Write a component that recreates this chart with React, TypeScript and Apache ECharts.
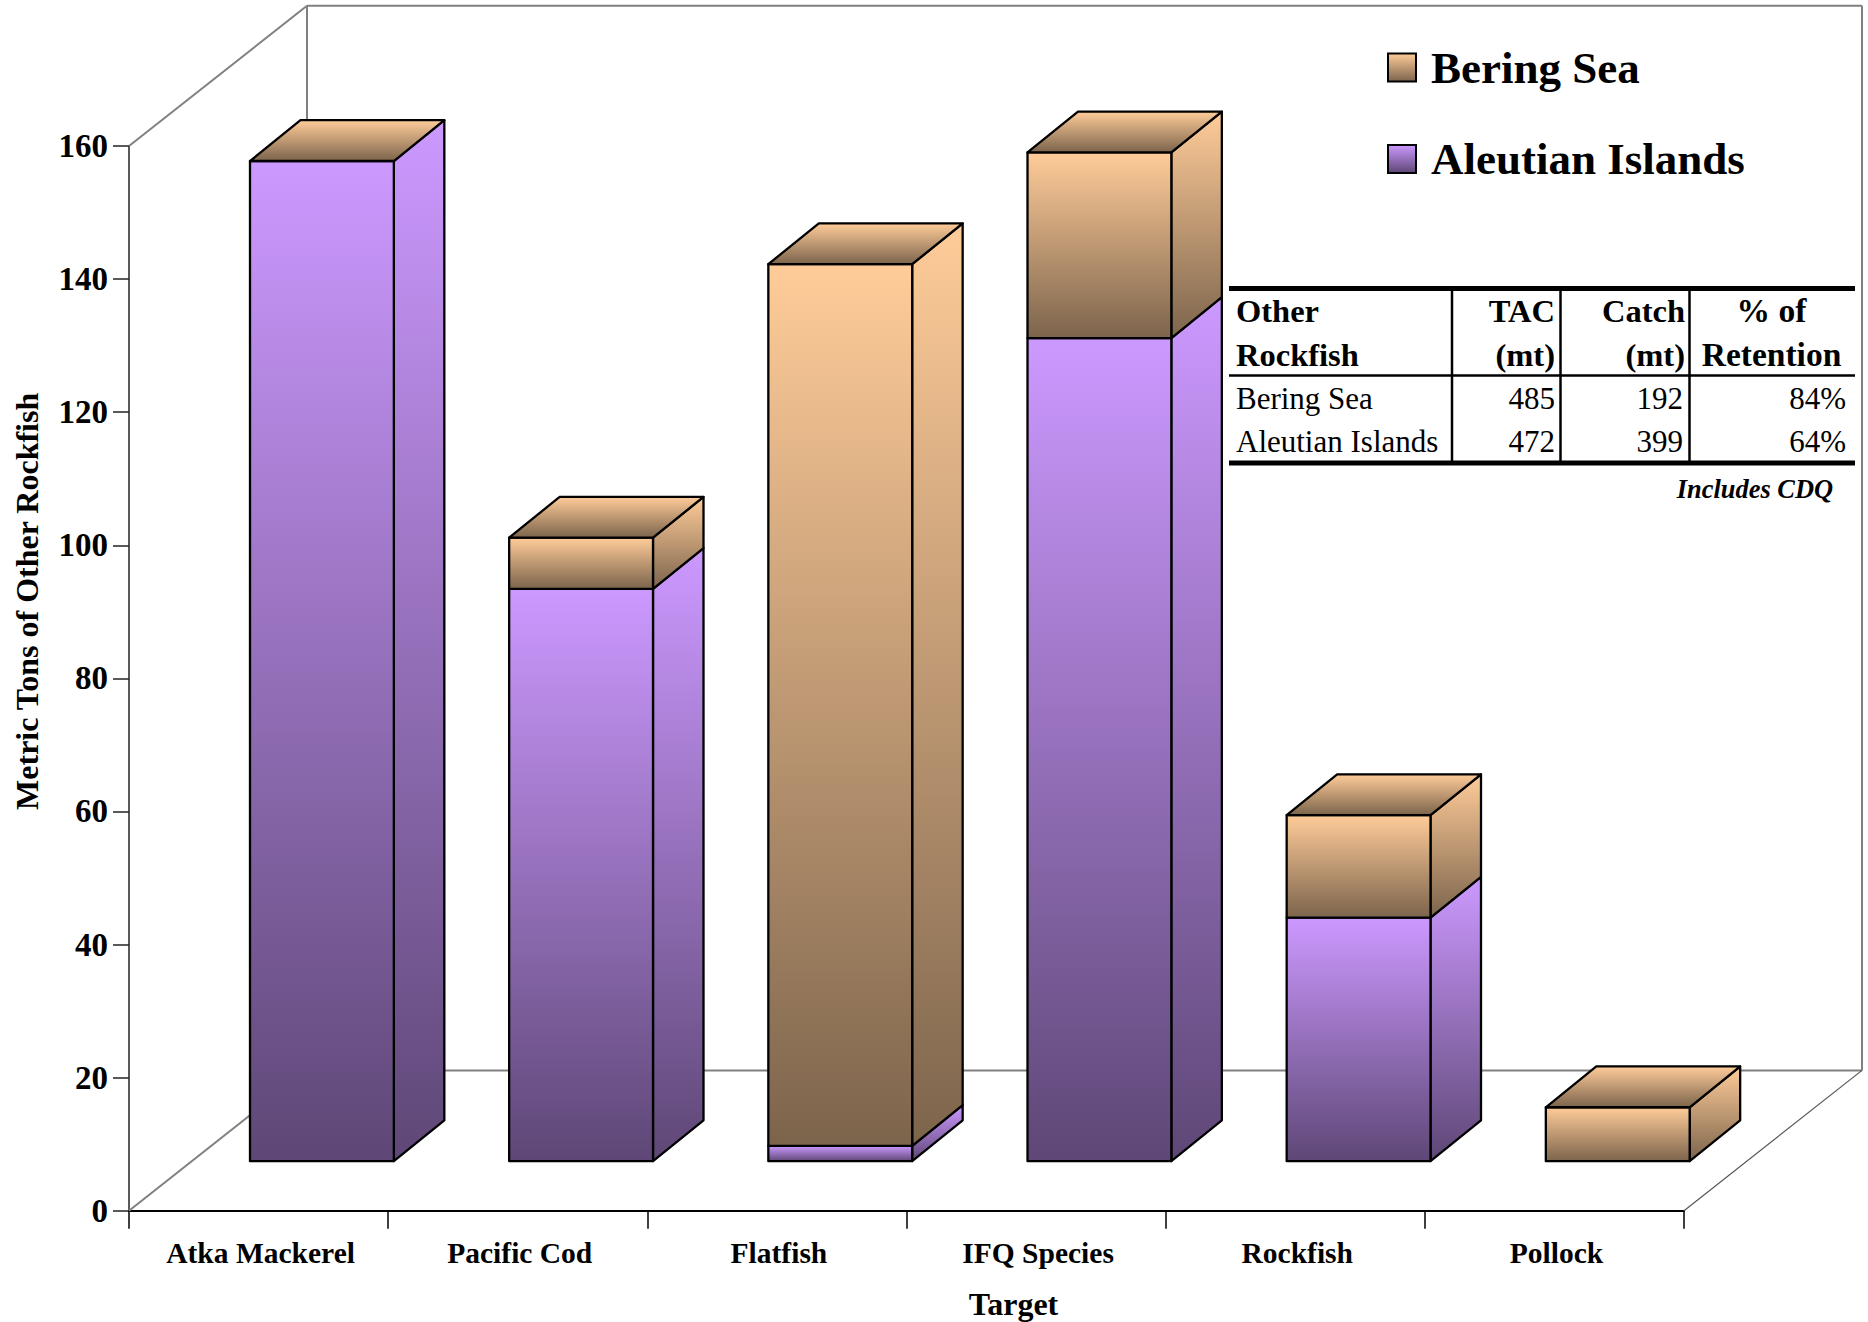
import React, { useEffect, useRef } from "react";
import * as echarts from "echarts";

const categories = ["Atka Mackerel", "Pacific Cod", "Flatfish", "IFQ Species", "Rockfish", "Pollock"];
const aleutianIslands = [150.3, 86.0, 2.3, 123.7, 36.6, 0];
const beringSea = [0, 7.7, 132.5, 27.9, 15.4, 8.1];
const yTicks = { min: 0, max: 160, interval: 20 };

const tableHeader1 = ["Other", "TAC", "Catch", "% of"];
const tableHeader2 = ["Rockfish", "(mt)", "(mt)", "Retention"];
const tableRowBering = ["Bering Sea", "485", "192", "84%"];
const tableRowAleutian = ["Aleutian Islands", "472", "399", "64%"];
const tableNote = "Includes CDQ";

const FONT = '"Liberation Serif", "Times New Roman", serif';
const DEPTH_X = 178;
const DEPTH_Y = 140.3;
const FRONT = 0.353;
const BAR_DX = 50.5;
const BAR_DY = 40.8;
const BAR_FRACTION = 0.555;

const grad = (top: string, bottom: string) => ({
  type: "linear",
  x: 0,
  y: 0,
  x2: 0,
  y2: 1,
  colorStops: [
    { offset: 0, color: top },
    { offset: 1, color: bottom },
  ],
});
const peach = () => grad("#FFCC99", "#7C644C");
const purple = () => grad("#CC99FF", "#5E4776");
const edge = { stroke: "#000", lineWidth: 2.3, lineJoin: "round" };

function makeBox(api: any, withTop: boolean, fill: () => any) {
  const i = api.value(0);
  const start = api.value(1);
  const end = api.value(2);
  const band = api.size([1, 0])[0];
  const low = api.coord([i, start]);
  const high = api.coord([i, end]);
  const half = (band * BAR_FRACTION) / 2;
  const fx = low[0] + FRONT * DEPTH_X + 0.5;
  const fdy = FRONT * DEPTH_Y;
  const l = fx - half;
  const r = fx + half;
  const yLow = low[1] - fdy;
  const yHigh = high[1] - fdy;
  const children: any[] = [];
  if (end > start) {
    children.push({
      type: "polygon",
      shape: { points: [[r, yLow], [r + BAR_DX, yLow - BAR_DY], [r + BAR_DX, yHigh - BAR_DY], [r, yHigh]] },
      style: { fill: fill(), ...edge },
    });
    children.push({
      type: "polygon",
      shape: { points: [[l, yLow], [r, yLow], [r, yHigh], [l, yHigh]] },
      style: { fill: fill(), ...edge },
    });
  }
  if (withTop) {
    children.push({
      type: "polygon",
      shape: { points: [[l, yHigh], [r, yHigh], [r + BAR_DX, yHigh - BAR_DY], [l + BAR_DX, yHigh - BAR_DY]] },
      style: { fill: peach(), ...edge },
    });
  }
  return { type: "group", children };
}

function renderWalls(params: any) {
  const c = params.coordSys;
  const x0 = c.x;
  const x1 = c.x + c.width;
  const yTop = c.y;
  const yBase = c.y + c.height;
  const seg = (a: number, b: number, p: number, q: number, w = 2, color = "#808080") => ({
    type: "line",
    shape: { x1: a, y1: b, x2: p, y2: q },
    style: { stroke: color, lineWidth: w },
  });
  return {
    type: "group",
    children: [
      seg(x0, yTop, x0 + DEPTH_X, yTop - DEPTH_Y, 2),
      seg(x0 + DEPTH_X, yTop - DEPTH_Y, x1 + DEPTH_X, yTop - DEPTH_Y),
      seg(x0 + DEPTH_X, yTop - DEPTH_Y, x0 + DEPTH_X, yBase - DEPTH_Y),
      seg(x1 + DEPTH_X, yTop - DEPTH_Y, x1 + DEPTH_X, yBase - DEPTH_Y),
      seg(x0 + DEPTH_X, yBase - DEPTH_Y, x1 + DEPTH_X, yBase - DEPTH_Y),
      seg(x0, yBase, x0 + DEPTH_X, yBase - DEPTH_Y, 2),
      seg(x1, yBase, x1 + DEPTH_X, yBase - DEPTH_Y, 1.2, "#555"),
    ],
  };
}

function tableGraphics() {
  const els: any[] = [];
  const rule = (x1: number, y1: number, x2: number, y2: number, w: number) =>
    els.push({ type: "line", shape: { x1, y1, x2, y2 }, style: { stroke: "#000", lineWidth: w } });
  rule(1229, 288.5, 1855, 288.5, 5);
  rule(1229, 375.5, 1855, 375.5, 2.5);
  rule(1229, 463, 1855, 463, 5);
  [1452, 1560.5, 1689.5].forEach((x) => rule(x, 288, x, 463, 2.5));

  const text = (t: string, x: number, baseline: number, align: string, font: string, size: number) =>
    els.push({
      type: "text",
      x,
      y: baseline - size * 0.32,
      style: {
        text: t,
        fill: "#000",
        font: `${font} ${size}px ${FONT}`,
        textAlign: align,
        textVerticalAlign: "middle",
      },
    });
  const bold = "bold";
  const reg = "normal";
  const rights = [1555, 1685];
  [tableHeader1, tableHeader2].forEach((row, k) => {
    const base = [321, 365][k];
    text(row[0], 1236, base, "left", bold, 32.5);
    text(row[1], rights[0], base, "right", bold, 32.5);
    text(row[2], rights[1], base, "right", bold, 32.5);
    text(row[3], 1771.5, base, "center", bold, 33.5);
  });
  [tableRowBering, tableRowAleutian].forEach((row, k) => {
    const base = [408, 451.5][k];
    text(row[0], 1236, base, "left", reg, 31);
    text(row[1], 1555, base, "right", reg, 31);
    text(row[2], 1683, base, "right", reg, 31);
    text(row[3], 1846, base, "right", reg, 31);
  });
  text(tableNote, 1833, 497, "right", "italic bold", 26.4);
  return els;
}

export default function App() {
  const ref = useRef<HTMLDivElement>(null);
  useEffect(() => {
    document.body.style.margin = "0";
    const chart = echarts.init(ref.current!, undefined, { renderer: "svg" });
    chart.setOption({
      animation: false,
      backgroundColor: "#fff",
      grid: { left: 129, top: 146, width: 1555, height: 1064.7, containLabel: false, outerBoundsMode: "none" },
      legend: {
        left: 1387,
        top: 45,
        padding: 0,
        orient: "vertical",
        itemWidth: 28,
        itemHeight: 28,
        itemGap: 46.5,
        selectedMode: false,
        textStyle: { fontFamily: FONT, fontWeight: "bold", fontSize: 45, color: "#000", padding: [0, 0, 0, 10] },
        data: [
          { name: "Bering Sea", icon: "rect", itemStyle: { color: peach(), borderColor: "#000", borderWidth: 2 } },
          { name: "Aleutian Islands", icon: "rect", itemStyle: { color: purple(), borderColor: "#000", borderWidth: 2 } },
        ],
      },
      xAxis: {
        type: "category",
        data: categories,
        boundaryGap: true,
        name: "Target",
        nameLocation: "middle",
        nameGap: 77,
        nameTextStyle: { fontFamily: FONT, fontWeight: "bold", fontSize: 32, color: "#000", padding: [0, 0, 0, 214] },
        axisLine: { show: true, lineStyle: { color: "#000", width: 2 } },
        axisTick: { show: true, length: 18, alignWithLabel: false, lineStyle: { color: "#000", width: 1.5 } },
        axisLabel: { interval: 0, margin: 27, fontFamily: FONT, fontWeight: "bold", fontSize: 29.5, color: "#000", padding: [0, 0, 0, 4] },
      },
      yAxis: {
        type: "value",
        min: yTicks.min,
        max: yTicks.max,
        interval: yTicks.interval,
        name: "Metric Tons of Other Rockfish",
        nameLocation: "middle",
        nameGap: 86,
        nameRotate: 90,
        nameTextStyle: { fontFamily: FONT, fontWeight: "bold", fontSize: 32, color: "#000", padding: [0, 0, 0, 154] },
        splitLine: { show: false },
        axisLine: { show: true, lineStyle: { color: "#222", width: 1.5 } },
        axisTick: { show: true, length: 16, lineStyle: { color: "#222", width: 1.5 } },
        axisLabel: { margin: 21, fontFamily: FONT, fontWeight: "bold", fontSize: 33, color: "#000" },
      },
      series: [
        {
          type: "custom",
          name: "walls",
          silent: true,
          z: 1,
          data: [[0, 0]],
          renderItem: (params: any) => renderWalls(params),
        },
        {
          type: "custom",
          name: "Aleutian Islands",
          z: 2,
          itemStyle: { color: "#CC99FF" },
          encode: { x: 0, y: [1, 2] },
          data: aleutianIslands.map((v, i) => [i, 0, v]),
          renderItem: (_p: any, api: any) => makeBox(api, false, purple),
        },
        {
          type: "custom",
          name: "Bering Sea",
          z: 3,
          itemStyle: { color: "#FFCC99" },
          encode: { x: 0, y: [1, 2] },
          data: beringSea.map((v, i) => [i, aleutianIslands[i], aleutianIslands[i] + v]),
          renderItem: (_p: any, api: any) => makeBox(api, true, peach),
        },
      ],
      graphic: tableGraphics(),
    });
    return () => chart.dispose();
  }, []);
  return <div ref={ref} style={{ width: 1868, height: 1322 }} />;
}
